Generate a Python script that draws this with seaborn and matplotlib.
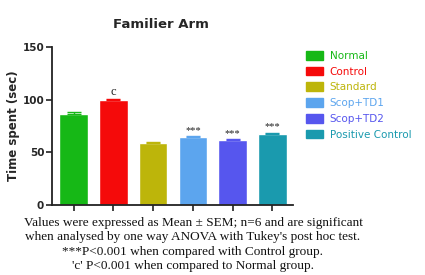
import matplotlib
matplotlib.use("Agg")
import matplotlib.pyplot as plt
import seaborn as sns
import pandas as pd
from matplotlib.patches import Patch

groups = ["Normal", "Control", "Standard", "Scop+TD1", "Scop+TD2", "Positive Control"]
means = [86.5, 99.5, 58.5, 64.5, 61.5, 67.5]
sems = [2.0, 0.8, 1.8, 0.8, 0.8, 0.8]
marks = ["", "c", "", "***", "***", "***"]
colors = ["#16B816", "#F50A0A", "#BDB50A", "#5CA5EE", "#5656EE", "#1A9AAE"]
footnote = ["Values were expressed as Mean \u00b1 SEM; n=6 and are significant",
            "when analysed by one way ANOVA with Tukey's post hoc test.",
            "***P<0.001 when compared with Control group.",
            "'c' P<0.001 when compared to Normal group."]

sns.set_style("ticks")
plt.rcParams['font.family'] = ['DejaVu Sans']

df = pd.DataFrame({"group": groups, "mean": means})
fig = plt.figure(figsize=(4.25, 2.75), dpi=100)
ax = fig.add_axes([0.122, 0.2545, 0.568, 0.5745])
sns.barplot(data=df, x="group", y="mean", hue="group", palette=colors,
            order=groups, hue_order=groups, dodge=False, legend=False,
            width=0.72, ax=ax, saturation=1)
for i, (m, s, c) in enumerate(zip(means, sems, colors)):
    ax.errorbar(i, m, yerr=[[0], [s]], color=c, capsize=5, lw=1.0, capthick=1.0)
for i, (m, s, t) in enumerate(zip(means, sems, marks)):
    if t:
        fs = 9 if t == "c" else 7.5
        ax.text(i, m + s + 1.5, t, ha="center", va="bottom", fontsize=fs,
                family="Liberation Serif", color="#222222")

ax.set_xlim(-0.55, 5.525)
ax.set_ylim(0, 150)
ax.set_yticks([0, 50, 100, 150])
ax.set_xticks(range(len(groups)))
ax.set_xticklabels([])
ax.set_xlabel("")
ax.set_ylabel("Time spent (sec)", fontsize=8.5, fontweight="bold", labelpad=2)
ax.set_title("Familier Arm", fontsize=9.5, fontweight="bold", pad=14, x=0.452)
for lab in ax.get_yticklabels():
    lab.set_fontweight("bold")
ax.tick_params(axis="both", labelsize=7.5, width=1.2, length=4, pad=1.5, color="#222222")
for sp in ["left", "bottom"]:
    ax.spines[sp].set_linewidth(1.3)
    ax.spines[sp].set_color("#222222")
sns.despine(ax=ax)

handles = [Patch(facecolor=c, edgecolor=c) for c in colors]
leg = fig.legend(handles, groups, loc="upper left", bbox_to_anchor=(0.71, 0.83),
                 frameon=False, fontsize=7.5, handlelength=1.6, handleheight=0.9,
                 labelspacing=0.55, handletextpad=0.7, borderaxespad=0)
for txt, c in zip(leg.get_texts(), colors):
    txt.set_color(c)

for k, line in enumerate(footnote):
    fig.text(0.454, 0.189 - k * 0.052, line, ha="center", va="center",
             fontsize=9.5, family="Liberation Serif", color="#111111")

fig.savefig("out.png", dpi=100)
